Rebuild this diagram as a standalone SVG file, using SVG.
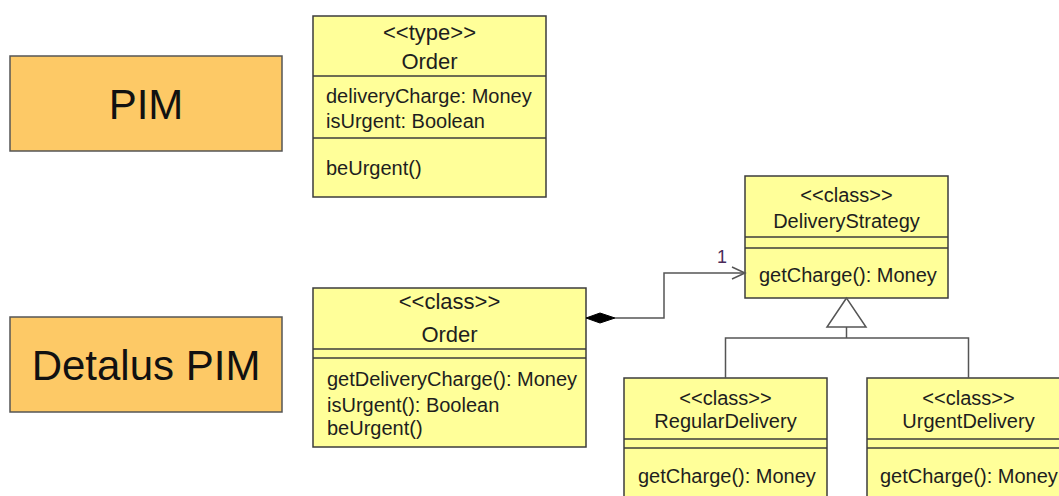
<svg xmlns="http://www.w3.org/2000/svg" width="1059" height="496" viewBox="0 0 1059 496">
  <style>
    .model { fill: #fdc966; stroke: #555; stroke-width: 1.5; }
    .model-label { font-family: "Liberation Sans", Arial, sans-serif; font-size: 42px; fill: #111; text-anchor: middle; }
    .cls { fill: #ffff99; stroke: #3c3c3c; stroke-width: 1.5; }
    .sep { stroke: #3c3c3c; stroke-width: 1.5; fill: none; }
    .head { font-family: "Liberation Sans", Arial, sans-serif; font-size: 20px; fill: #1e1e1e; text-anchor: middle; }
    .head-lg { font-family: "Liberation Sans", Arial, sans-serif; font-size: 22px; fill: #1e1e1e; text-anchor: middle; }
    .member { font-family: "Liberation Sans", Arial, sans-serif; font-size: 20px; fill: #1e1e1e; }
    .wire { fill: none; stroke: #555; stroke-width: 1.5; }
    .mult { font-family: "Liberation Sans", Arial, sans-serif; font-size: 18px; fill: #4a2a5a; }
  </style>

  <!-- model level labels -->
  <g id="pim">
    <rect class="model" x="10" y="56" width="272" height="95"/>
    <text class="model-label" x="146" y="119">PIM</text>
  </g>
  <g id="detailed-pim">
    <rect class="model" x="10" y="317" width="272" height="95"/>
    <text class="model-label" x="146" y="380">Detalus PIM</text>
  </g>

  <!-- abstract type -->
  <g id="order-type">
    <rect class="cls" x="313" y="16" width="233" height="181"/>
    <text class="head-lg" x="429.5" y="40">&lt;&lt;type&gt;&gt;</text>
    <text class="head-lg" x="429.5" y="69">Order</text>
    <line class="sep" x1="313" y1="76" x2="546" y2="76"/>
    <text class="member" x="326" y="103">deliveryCharge: Money</text>
    <text class="member" x="326" y="128">isUrgent: Boolean</text>
    <line class="sep" x1="313" y1="138" x2="546" y2="138"/>
    <text class="member" x="326" y="175">beUrgent()</text>
  </g>

  <!-- detailed classes -->
  <g id="order-class">
    <rect class="cls" x="313" y="288" width="273" height="159"/>
    <text class="head-lg" x="449.5" y="309">&lt;&lt;class&gt;&gt;</text>
    <text class="head-lg" x="449.5" y="342">Order</text>
    <line class="sep" x1="313" y1="349" x2="586" y2="349"/>
    <line class="sep" x1="313" y1="358" x2="586" y2="358"/>
    <text class="member" x="327" y="386">getDeliveryCharge(): Money</text>
    <text class="member" x="327" y="412">isUrgent(): Boolean</text>
    <text class="member" x="327" y="435">beUrgent()</text>
  </g>

  <g id="delivery-strategy">
    <rect class="cls" x="745" y="176" width="203" height="122"/>
    <text class="head" x="846.5" y="202">&lt;&lt;class&gt;&gt;</text>
    <text class="head" x="846.5" y="228">DeliveryStrategy</text>
    <line class="sep" x1="745" y1="237" x2="948" y2="237"/>
    <line class="sep" x1="745" y1="248" x2="948" y2="248"/>
    <text class="member" x="759" y="282">getCharge(): Money</text>
  </g>

  <g id="regular-delivery">
    <rect class="cls" x="624" y="378" width="203" height="130"/>
    <text class="head" x="725.5" y="405">&lt;&lt;class&gt;&gt;</text>
    <text class="head" x="725.5" y="428">RegularDelivery</text>
    <line class="sep" x1="624" y1="439" x2="827" y2="439"/>
    <line class="sep" x1="624" y1="448" x2="827" y2="448"/>
    <text class="member" x="638" y="483">getCharge(): Money</text>
  </g>

  <g id="urgent-delivery">
    <rect class="cls" x="867" y="378" width="203" height="130"/>
    <text class="head" x="968.5" y="405">&lt;&lt;class&gt;&gt;</text>
    <text class="head" x="968.5" y="428">UrgentDelivery</text>
    <line class="sep" x1="867" y1="439" x2="1070" y2="439"/>
    <line class="sep" x1="867" y1="448" x2="1070" y2="448"/>
    <text class="member" x="880" y="483">getCharge(): Money</text>
  </g>

  <!-- connectors -->
  <g id="connectors">
    <!-- composition Order -> DeliveryStrategy -->
    <polyline class="wire" points="615,318 664,318 664,273 744,273"/>
    <polygon points="586,318 600,313 615,318 600,323" fill="#000" stroke="#000" stroke-width="1"/>
    <polyline class="wire" points="732,267 745,273 732,279"/>
    <text class="mult" x="717" y="263">1</text>

    <!-- generalization -->
    <polygon points="846.5,298 827,327 866,327" fill="#fff" stroke="#555" stroke-width="1.5"/>
    <line class="wire" x1="846.5" y1="327" x2="846.5" y2="338"/>
    <polyline class="wire" points="725.5,378 725.5,338 968.5,338 968.5,378"/>
  </g>
</svg>
